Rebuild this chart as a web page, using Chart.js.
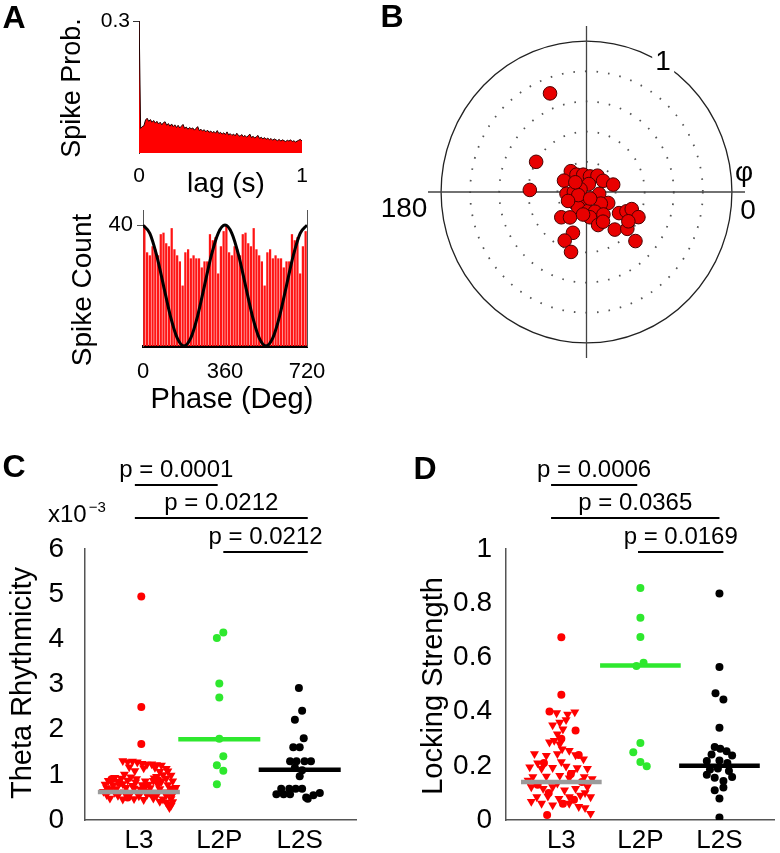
<!DOCTYPE html>
<html lang="en">

<head>
  <meta charset="UTF-8" />
  <title>Theta rhythmicity and locking</title>
  <style>
    body {
      margin: 0;
      width: 780px;
      height: 853px;
      position: relative;
      overflow: hidden;
      background: #fff;
      font-family: "Liberation Sans", Arial, sans-serif;
      color: #000;
    }

    canvas { position: absolute; }

    .lbl {
      position: absolute;
      transform: translate(-50%, -50%);
      line-height: 1;
      white-space: nowrap;
    }

    .rot { transform: translate(-50%, -50%) rotate(-90deg); }

    .panel { font-weight: bold; font-size: 32px; }
  </style>
  <script src="https://cdn.jsdelivr.net/npm/chart.js"></script>
</head>

<body>
  <canvas id="lagChart" width="330" height="200" style="left:0;top:0"></canvas>
  <canvas id="phaseChart" width="330" height="195" style="left:0;top:195px"></canvas>
  <canvas id="polarChart" width="400" height="400" style="left:380px;top:0"></canvas>
  <canvas id="thetaChart" width="390" height="403" style="left:0;top:450px"></canvas>
  <canvas id="lockChart" width="390" height="403" style="left:390px;top:450px"></canvas>

  <div class="lbl panel" style="left:14px;top:17px">A</div>
  <div class="lbl panel" style="left:392px;top:16px">B</div>
  <div class="lbl panel" style="left:14px;top:466px">C</div>
  <div class="lbl panel" style="left:425px;top:468px">D</div>

  <div class="lbl rot" style="left:71px;top:88px;font-size:27px">Spike Prob.</div>
  <div class="lbl" style="left:226px;top:183px;font-size:28px">lag (s)</div>
  <div class="lbl rot" style="left:82px;top:290px;font-size:28px">Spike Count</div>
  <div class="lbl" style="left:232px;top:398px;font-size:29px">Phase (Deg)</div>

  <div class="lbl" style="left:663px;top:61px;font-size:28px;background:#fff;padding:0 3px">1</div>
  <div class="lbl" style="left:744px;top:172px;font-size:28px">φ</div>
  <div class="lbl" style="left:748px;top:210px;font-size:28px">0</div>
  <div class="lbl" style="left:404px;top:208px;font-size:28px">180</div>

  <div class="lbl" style="left:48px;top:514px;font-size:24px;transform:translate(0,-50%)">x10<span
      style="font-size:15px;position:relative;top:-10px;left:2px">−3</span></div>
  <div class="lbl rot" style="left:21px;top:683px;font-size:29px">Theta Rhythmicity</div>
  <div class="lbl rot" style="left:432px;top:686px;font-size:29px">Locking Strength</div>
</body>

</html>
<script>
  // ---- A (top): spike probability vs lag, 10 ms bins from 0 to 1 s
  const lagBin = 0.01
  const lagProb = [0.32,
    0.056, 0.060, 0.062, 0.075, 0.079, 0.072, 0.076, 0.070, 0.074, 0.068,
    0.072, 0.066, 0.070, 0.064, 0.069, 0.071, 0.063, 0.067, 0.061, 0.066,
    0.060, 0.064, 0.058, 0.063, 0.057, 0.061, 0.065, 0.056, 0.059, 0.054,
    0.058, 0.055, 0.057, 0.052, 0.056, 0.060, 0.051, 0.054, 0.050, 0.053,
    0.048, 0.052, 0.047, 0.050, 0.046, 0.049, 0.045, 0.051, 0.044, 0.047,
    0.043, 0.046, 0.042, 0.048, 0.041, 0.044, 0.040, 0.043, 0.039, 0.045,
    0.040, 0.038, 0.042, 0.037, 0.040, 0.036, 0.039, 0.043, 0.035, 0.038,
    0.034, 0.037, 0.040, 0.033, 0.036, 0.032, 0.035, 0.031, 0.034, 0.030,
    0.033, 0.029, 0.032, 0.030, 0.028, 0.031, 0.027, 0.030, 0.028, 0.026,
    0.029, 0.027, 0.030, 0.026, 0.028, 0.025, 0.027, 0.029, 0.031, 0.027]

  // ---- A (bottom): spike count per 12 deg phase bin, one cycle (shown twice)
  const phaseBinDeg = 12
  const phaseCounts = [40, 31, 30, 33, 32, 30, 37, 37.5, 34, 33, 39, 32, 30, 28, 20,
    31, 32, 29, 30, 29, 29, 26, 28, 28, 37, 35, 36, 24, 33, 38]
  const cosFitDeg = [0, 30, 60, 90, 120, 150, 180, 210, 240, 270, 300, 330, 360,
    390, 420, 450, 480, 510, 540, 570, 600, 630, 660, 690, 720]
  const cosFit = [40, 37.3, 30, 20, 10, 2.7, 0, 2.7, 10, 20, 30, 37.3, 40,
    37.3, 30, 20, 10, 2.7, 0, 2.7, 10, 20, 30, 37.3, 40]

  // ---- B: preferred phase (deg) and locking strength per cell
  const lockPhase = [111, 150, 178, 128, 121, 101, 77, 55, 33, 15, 154, 73, 156, 185, 180,
    352, 218, 231, 334, 322, 241, 275, 294, 308, 328, 335, 340, 335, 224, 236,
    278, 290, 300, 308, 319, 326, 251, 245, 255, 316, 261, 200, 140, 205, 300]
  const lockStrength = [0.70, 0.40, 0.39, 0.175, 0.134, 0.117, 0.106, 0.132, 0.136, 0.19, 0.172, 0.055, 0.045, 0.138, 0.087,
    0.088, 0.111, 0.074, 0.166, 0.125, 0.118, 0.127, 0.143, 0.189, 0.264, 0.303, 0.331, 0.394, 0.241, 0.203,
    0.169, 0.233, 0.227, 0.316, 0.372, 0.347, 0.286, 0.355, 0.411, 0.468, 0.151, 0.06, 0.10, 0.14, 0.05]
  const polarRings = [0.2, 0.4, 0.6, 0.8]

  // ---- C / D groups
  const groups = ['L3', 'L2P', 'L2S']

  // C: theta rhythmicity (x10^-3); X arrays are the horizontal spread around each group
  const thetaL3TriY = [1.31, 1.29, 1.30, 1.28, 1.25, 1.23, 1.24, 1.22, 1.21, 1.17, 1.15, 1.16, 1.14,
    1.09, 1.07, 1.08, 1.01, 1.00, 0.99, 0.94, 0.92, 0.95, 0.91, 0.93, 0.96, 0.92,
    0.87, 0.85, 0.88, 0.84, 0.86, 0.87, 0.85, 0.86, 0.79, 0.77, 0.80, 0.76, 0.78, 0.79, 0.77, 0.78,
    0.71, 0.69, 0.72, 0.70, 0.68, 0.71, 0.69, 0.70, 0.72, 0.63, 0.61, 0.62, 0.60, 0.63, 0.61, 0.62, 0.64,
    0.56, 0.54, 0.55, 0.53, 0.56, 0.54, 0.55, 0.57, 0.48, 0.46, 0.47, 0.45, 0.48, 0.46, 0.47,
    0.41, 0.39, 0.40, 0.34, 0.32, 0.27]
  const thetaL3TriX = [-0.20, -0.14, -0.08, -0.02, 0.04, 0.10, 0.16, 0.22, 0.28, -0.12, 0.06, 0.20, 0.34,
    -0.05, 0.26, 0.36, -0.18, 0.30, 0.40, -0.30, -0.22, -0.10, -0.03, 0.19, 0.22, 0.34,
    -0.38, -0.26, -0.14, -0.04, 0.08, 0.18, 0.28, 0.42, -0.42, -0.32, -0.20, -0.08, 0.04, 0.12, 0.24, 0.36,
    -0.40, -0.28, -0.16, -0.06, 0.02, 0.14, 0.26, 0.40, 0.46, -0.44, -0.30, -0.18, -0.10, 0.08, 0.20, 0.32, 0.44,
    -0.40, -0.26, -0.12, 0.00, 0.10, 0.22, 0.34, 0.42, -0.36, -0.20, -0.06, 0.06, 0.18, 0.30, 0.40,
    0.26, 0.34, 0.42, 0.36, 0.40, 0.38]
  const thetaL3CircY = [4.95, 2.50, 1.68, 0.90, 0.82, 0.74, 0.66, 0.58, 0.88, 0.50, 0.60]
  const thetaL3CircX = [0.03, 0.03, 0.03, -0.34, -0.24, 0.06, -0.36, 0.16, 0.24, -0.14, 0.38]
  const thetaL2PY = [4.15, 4.03, 3.02, 2.71, 1.80, 1.41, 1.21, 1.09, 0.79]
  const thetaL2PX = [0.05, -0.03, 0.0, 0.0, 0.0, 0.05, -0.03, 0.05, -0.03]
  const thetaL2SY = [2.92, 2.42, 2.22, 1.81, 1.61, 1.61, 1.30, 1.30, 1.30, 1.30, 1.16, 1.10, 0.97,
    0.69, 0.69, 0.69, 0.69, 0.57, 0.57, 0.57, 0.50, 0.55, 0.60, 0.47]
  const thetaL2SX = [-0.01, 0.03, -0.06, 0.05, -0.08, 0.0, -0.12, -0.04, 0.06, 0.14, -0.06, 0.03, 0.0,
    -0.23, -0.13, -0.05, 0.03, -0.29, -0.2, -0.12, 0.08, 0.17, 0.25, 0.1]
  const thetaMedian = [0.62, 1.79, 1.11]
  const thetaP = ['0.0001', '0.0212', '0.0212']

  // D: locking strength
  const lockL3TriY = [0.395, 0.39, 0.37, 0.35, 0.335, 0.317, 0.293, 0.287, 0.262, 0.256, 0.244, 0.238, 0.244, 0.240,
    0.195, 0.190, 0.193, 0.198, 0.192, 0.190, 0.159, 0.161, 0.164, 0.155, 0.159, 0.152,
    0.122, 0.116, 0.122, 0.110, 0.116, 0.122, 0.085, 0.087, 0.079, 0.085, 0.091, 0.085,
    0.061, 0.055, 0.061, 0.049, 0.024, 0.146, 0.225, 0.210, 0.175, 0.135, 0.100, 0.068, 0.045, 0.215, 0.28,
    0.398, 0.36]
  const lockL3TriX = [-0.06, 0.08, 0.06, -0.11, 0.02, -0.05, -0.09, -0.15, 0.01, 0.10, -0.34, -0.19, -0.05, 0.18,
    -0.40, -0.25, -0.11, 0.06, 0.20, 0.33, -0.36, -0.19, -0.02, 0.10, 0.29, 0.39,
    -0.38, -0.23, -0.11, 0.04, 0.18, 0.33, -0.31, -0.17, -0.03, 0.10, 0.24, 0.37,
    -0.25, -0.11, 0.10, 0.22, 0.37, -0.42, 0.28, -0.30, 0.14, -0.05, 0.30, -0.38, 0.30, 0.0, -0.02,
    0.17, -0.02]
  const lockL3CircY = [0.674, 0.462, 0.40, 0.33, 0.30, 0.21, 0.14, 0.10, 0.06, 0.018, 0.17, 0.24, 0.13, 0.075]
  const lockL3CircX = [0.0, 0.0, -0.15, 0.18, 0.0, -0.22, 0.26, -0.16, 0.02, -0.18, 0.12, 0.22, -0.30, 0.16]
  const lockL2PY = [0.856, 0.746, 0.675, 0.58, 0.568, 0.284, 0.25, 0.214, 0.198]
  const lockL2PX = [0, 0, 0, 0.04, -0.05, 0, -0.09, 0, 0.08]
  const lockL2SY = [0.836, 0.565, 0.468, 0.445, 0.34, 0.269, 0.263, 0.254, 0.242, 0.238, 0.218, 0.22,
    0.21, 0.186, 0.19, 0.181, 0.167, 0.159, 0.156, 0.144, 0.11, 0.12, 0.079, 0.009]
  const lockL2SX = [0, 0, -0.05, 0.05, 0, -0.06, 0.01, 0.09, -0.1, 0.16, -0.16, 0,
    0.1, -0.12, -0.02, 0.12, -0.16, 0.16, -0.06, 0.05, -0.06, 0.05, 0, 0]
  const lockMedian = [0.14, 0.57, 0.20]
  const lockP = ['0.0006', '0.0365', '0.0169']

  const RED = '#ff0000'
  const GREEN = '#2ee82e'
  const BLACK = '#000000'
  const GRAY = '#9b9b9b'
  const AXIS = '#555555'
  const FONT = '"Liberation Sans", Arial, sans-serif'

  Chart.defaults.font.family = FONT
  Chart.defaults.color = '#000'
  Chart.defaults.animation = false
  Chart.defaults.responsive = false
  Chart.defaults.plugins.legend.display = false
  Chart.defaults.plugins.tooltip.enabled = false

  // fix axis box sizes so the plot areas land where the figure has them
  function boxW(w) {
    return s => { s.width = w; s.paddingTop = 0; s.paddingBottom = 0; s.paddingLeft = 0; s.paddingRight = 0 }
  }
  function boxH(h) {
    return s => { s.height = h; s.paddingTop = 0; s.paddingBottom = 0; s.paddingLeft = 0; s.paddingRight = 0 }
  }
  function onlyTicks(vals) {
    return s => { s.ticks = vals.map(v => ({ value: v })) }
  }

  // A top
  new Chart(document.getElementById('lagChart'), {
    type: 'line',
    data: {
      datasets: [{
        data: lagProb.map((v, i) => ({ x: i * lagBin, y: v })),
        borderColor: '#220000', borderWidth: 1, backgroundColor: RED,
        fill: 'origin', pointRadius: 0, tension: 0
      }]
    },
    options: {
      layout: { padding: { top: 21, right: 28, left: 0, bottom: 0 } },
      scales: {
        x: {
          type: 'linear', min: 0, max: 1, afterFit: boxH(47), afterBuildTicks: onlyTicks([0, 1]),
          grid: { display: false }, border: { display: false },
          ticks: { font: { size: 21 }, padding: 3, maxRotation: 0, callback: v => String(v) }
        },
        y: {
          min: 0, max: 0.3, afterFit: boxW(139), afterBuildTicks: onlyTicks([0.3]),
          grid: { drawOnChartArea: false, tickLength: 6, color: '#333' },
          border: { color: '#333' },
          ticks: { font: { size: 21 }, padding: 3, callback: v => String(v) }
        }
      }
    }
  })

  // A bottom
  const phaseAll = phaseCounts.concat(phaseCounts)
  new Chart(document.getElementById('phaseChart'), {
    type: 'bar',
    data: {
      datasets: [{
        type: 'line', order: 0,
        data: cosFitDeg.map((d, i) => ({ x: d, y: cosFit[i] })),
        borderColor: BLACK, borderWidth: 3, pointRadius: 0, cubicInterpolationMode: 'monotone'
      }, {
        type: 'bar', order: 1,
        data: phaseAll.map((v, i) => ({ x: (i + 0.5) * phaseBinDeg, y: v })),
        backgroundColor: '#ff1414', barPercentage: 0.82, categoryPercentage: 1
      }]
    },
    options: {
      layout: { padding: { top: 15, right: 23, left: 0, bottom: 0 } },
      scales: {
        x: {
          type: 'linear', offset: false, min: 0, max: 720, afterFit: boxH(44), afterBuildTicks: onlyTicks([0, 360, 720]),
          grid: { display: false, offset: false }, border: { color: BLACK, width: 3 },
          ticks: { font: { size: 22 }, padding: 5, maxRotation: 0, callback: v => String(v) }
        },
        y: {
          min: 0, max: 45, afterFit: boxW(143), afterBuildTicks: onlyTicks([40]),
          grid: { drawOnChartArea: false, tickLength: 6, color: AXIS },
          border: { color: AXIS },
          ticks: { font: { size: 22 }, padding: 4 }
        },
        y2: {
          position: 'right', min: 0, max: 45, afterFit: boxW(0),
          grid: { display: false }, ticks: { display: false }, border: { color: AXIS }
        }
      }
    }
  })

  // B: polar scatter drawn on hidden cartesian scales
  const polarGrid = {
    id: 'polarGrid',
    beforeDatasetsDraw(chart) {
      const { ctx, chartArea: a, scales: { x, y } } = chart
      const cx = x.getPixelForValue(0), cy = y.getPixelForValue(0)
      const ux = x.getPixelForValue(1) - cx, uy = cy - y.getPixelForValue(1)
      ctx.save()
      ctx.strokeStyle = '#555'
      ctx.lineWidth = 1.8
      ctx.setLineDash([1.6, 10])
      polarRings.forEach(r => {
        ctx.beginPath()
        ctx.ellipse(cx, cy, ux * r, uy * r, 0, 0, 2 * Math.PI)
        ctx.stroke()
      })
      ctx.setLineDash([])
      ctx.strokeStyle = '#222'
      ctx.lineWidth = 1.3
      ctx.beginPath()
      ctx.ellipse(cx, cy, ux, uy, 0, 0, 2 * Math.PI)
      ctx.stroke()
      ctx.strokeStyle = '#444'
      ctx.beginPath()
      ctx.moveTo(a.left, cy); ctx.lineTo(a.right, cy)
      ctx.moveTo(cx, a.top); ctx.lineTo(cx, a.bottom)
      ctx.stroke()
      ctx.restore()
    }
  }

  new Chart(document.getElementById('polarChart'), {
    type: 'scatter',
    data: {
      datasets: [{
        data: lockPhase.map((p, i) => ({
          x: lockStrength[i] * Math.cos(p * Math.PI / 180),
          y: lockStrength[i] * Math.sin(p * Math.PI / 180)
        })),
        pointRadius: 6.8, backgroundColor: '#e80000', borderColor: '#4a0000', borderWidth: 1
      }]
    },
    options: {
      layout: { padding: { left: 48, right: 35, top: 26, bottom: 42 } },
      scales: {
        x: { display: false, min: -1.09, max: 1.09 },
        y: { display: false, min: -1.1, max: 1.1 }
      }
    },
    plugins: [polarGrid]
  })

  // C / D: significance bars above the strips
  const sigBars = {
    id: 'sigBars',
    afterDraw(chart, args, o) {
      const { ctx, scales: { x } } = chart
      ctx.save()
      ctx.strokeStyle = '#000'
      ctx.fillStyle = '#000'
      ctx.lineWidth = 2
      ctx.font = '24px ' + FONT
      ctx.textAlign = 'center'
      ctx.textBaseline = 'middle'
      o.pairs.forEach((p, i) => {
        const x0 = x.getPixelForValue(p[0]), x1 = x.getPixelForValue(p[1]), yy = o.ys[i]
        ctx.beginPath()
        ctx.moveTo(x0, yy)
        ctx.lineTo(x1, yy)
        ctx.stroke()
        ctx.fillText('p = ' + o.labels[i], (x0 + x1) / 2, yy - 15)
      })
      ctx.restore()
    }
  }

  const medHalf = 0.51
  const pts = (ys, xs, g) => ys.map((v, i) => ({ x: g + xs[i], y: v }))
  const dots = (data, color) => ({
    data, backgroundColor: color, borderWidth: 0, pointRadius: 4, order: 1
  })
  const tris = (data, color) => ({
    data, backgroundColor: color, borderWidth: 0, pointStyle: 'triangle', rotation: 180, pointRadius: 5.2, order: 1
  })
  const median = (g, v, color) => ({
    data: [{ x: g - medHalf, y: v }, { x: g + medHalf, y: v }],
    showLine: true, borderColor: color, borderWidth: 4.5, pointRadius: 0, order: 0
  })

  function stripChart(id, o) {
    return new Chart(document.getElementById(id), {
      type: 'scatter',
      data: { datasets: o.datasets },
      options: {
        layout: { padding: { top: 99, right: o.padRight, left: 0, bottom: 0 } },
        scales: {
          x: {
            type: 'linear', min: o.xMin, max: 3.7, afterFit: boxH(33), afterBuildTicks: onlyTicks([1, 2, 3]),
            grid: { drawOnChartArea: false, drawTicks: false, color: AXIS },
            border: { color: AXIS, width: 1.5 },
            ticks: { font: { size: 26 }, padding: 5, maxRotation: 0, autoSkip: false, callback: v => groups[v - 1] }
          },
          y: {
            min: 0, max: o.yMax, afterFit: boxW(o.axisLeft),
            grid: { display: false }, border: { color: AXIS, width: 1.5 },
            ticks: {
              font: { size: 28 }, padding: o.tickPad, stepSize: o.step,
              callback: v => String(Math.round(v * 10) / 10)
            }
          }
        },
        plugins: { sigBars: { pairs: o.pairs, labels: o.pLabels, ys: [35, 68, 102] } }
      },
      plugins: [sigBars]
    })
  }

  stripChart('thetaChart', {
    xMin: 0.33, padRight: 34, axisLeft: 85, tickPad: 13, yMax: 6, step: 1,
    pairs: [[0.95, 1.98], [0.95, 3.1], [2.05, 3.1]], pLabels: thetaP,
    datasets: [
      median(1, thetaMedian[0], GRAY), median(2, thetaMedian[1], GREEN), median(3, thetaMedian[2], BLACK),
      tris(pts(thetaL3TriY, thetaL3TriX, 1), RED),
      dots(pts(thetaL3CircY, thetaL3CircX, 1), RED),
      dots(pts(thetaL2PY, thetaL2PX, 2), GREEN),
      dots(pts(thetaL2SY, thetaL2SX, 3), BLACK)
    ]
  })

  stripChart('lockChart', {
    xMin: 0.3, padRight: 0, axisLeft: 116, tickPad: 6, yMax: 1, step: 0.2,
    pairs: [[0.87, 1.96], [0.87, 3.0], [1.97, 3.05]], pLabels: lockP,
    datasets: [
      median(1, lockMedian[0], GRAY), median(2, lockMedian[1], GREEN), median(3, lockMedian[2], BLACK),
      tris(pts(lockL3TriY, lockL3TriX, 1), RED),
      dots(pts(lockL3CircY, lockL3CircX, 1), RED),
      dots(pts(lockL2PY, lockL2PX, 2), GREEN),
      dots(pts(lockL2SY, lockL2SX, 3), BLACK)
    ]
  })
</script>
